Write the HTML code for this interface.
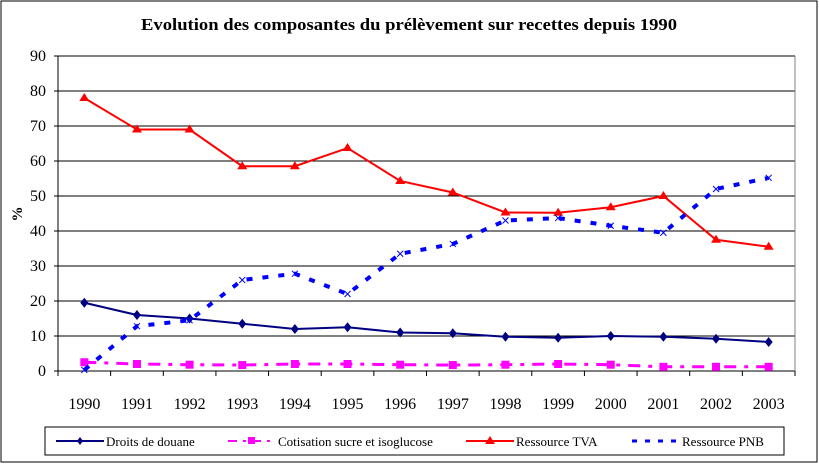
<!DOCTYPE html>
<html><head><meta charset="utf-8"><style>
body{margin:0;background:#fff;}
svg{display:block;font-family:"Liberation Serif",serif;}
</style></head><body>
<svg id="c" width="819" height="464">
<rect x="1" y="1" width="816" height="461" fill="#fff" stroke="#000" stroke-width="1"/>
<text x="409" y="30" text-anchor="middle" font-size="17" font-weight="bold" textLength="536" lengthAdjust="spacingAndGlyphs">Evolution des composantes du prélèvement sur recettes depuis 1990</text>
<text x="22" y="214" text-anchor="middle" font-size="15" font-weight="bold" transform="rotate(-90 22 214)">%</text>
<g id="grid"></g><g id="series"></g>
<rect x="45" y="427" width="739" height="28" fill="#fff" stroke="#000"/>
<g><line x1="56" y1="441" x2="104" y2="441" stroke="#000080" stroke-width="2"/><path d="M80 437 L83 441 L80 445 L77 441Z" fill="#000080"/><text x="106" y="446" font-size="13">Droits de douane</text></g>
<g><line x1="228" y1="441" x2="276" y2="441" stroke="#f0f" stroke-width="2" stroke-dasharray="9,6,3,6"/><rect x="248" y="437" width="7" height="7" fill="#f0f"/><text x="278" y="446" font-size="13">Cotisation sucre et isoglucose</text></g>
<g><line x1="466" y1="441" x2="514" y2="441" stroke="#f00" stroke-width="2"/><path d="M490 436 L495 444 L485 444Z" fill="#f00"/><text x="516" y="446" font-size="13">Ressource TVA</text></g>
<g><line x1="632" y1="441" x2="680" y2="441" stroke="#00f" stroke-width="3" stroke-dasharray="5,8"/><text x="682" y="446" font-size="13">Ressource PNB</text></g>
</svg>
<script>
const years=["1990","1991","1992","1993","1994","1995","1996","1997","1998","1999","2000","2001","2002","2003"];
const yTicks=[0,10,20,30,40,50,60,70,80,90];
const droits=[19.5,16,15,13.5,12,12.5,11,10.8,9.8,9.5,10,9.8,9.2,8.3];
const cotisation=[2.5,2,1.8,1.7,2,2,1.8,1.7,1.8,2,1.8,1.2,1.2,1.2];
const tva=[78,69,69,58.5,58.5,63.7,54.3,51,45.3,45.2,46.8,50,37.5,35.5];
const pnb=[0.3,12.8,14.5,26,27.8,22,33.5,36.3,43,43.7,41.5,39.5,52,55.2];
const NS="http://www.w3.org/2000/svg";
const L=58,R=795,T=56,B=371,step=(R-L)/years.length;
const X=i=>L+step*(i+0.5), Y=v=>B-(v/90)*(B-T);
function mk(t,a,p){const e=document.createElementNS(NS,t);for(const k in a)e.setAttribute(k,a[k]);p.appendChild(e);return e;}
const g=document.getElementById('grid');
yTicks.forEach(v=>{
 const l=mk('line',{x1:L,x2:R,y1:Y(v),y2:Y(v),stroke:'#000','stroke-width':1},g);
 
 
 const t=mk('text',{x:L-12,y:Y(v)+5,'text-anchor':'end','font-size':16},g);t.textContent=v;
 
 
 mk('line',{x1:L-4,x2:L,y1:Y(v),y2:Y(v),stroke:'#000'},g);
});
mk('line',{x1:L,x2:L,y1:T,y2:B,stroke:'#000'},g);
mk('line',{x1:R,x2:R,y1:T,y2:B,stroke:'#808080'},g);
for(let i=0;i<=years.length;i++)mk('line',{x1:L+step*i,x2:L+step*i,y1:B,y2:B+5,stroke:'#000'},g);
years.forEach((y,i)=>{const t=mk('text',{x:X(i),y:409,'text-anchor':'middle','font-size':16},g);t.textContent=y;
 
 });
const s=document.getElementById('series');
function line(data,color,w,dash,name){
 const p=mk('polyline',{points:data.map((v,i)=>X(i)+','+Y(v)).join(' '),fill:'none',stroke:color,'stroke-width':w},s);
 if(dash)p.setAttribute('stroke-dasharray',dash);
 
 
}
line(droits,'#000080',2,null,'droits-line');
droits.forEach((v,i)=>{const m=mk('path',{d:`M${X(i)} ${Y(v)-5} L${X(i)+4} ${Y(v)} L${X(i)} ${Y(v)+5} L${X(i)-4} ${Y(v)}Z`,fill:'#000080'},s);
 
 });
line(cotisation,'#f0f',3,'12,8,4,8','cotisation-line');
cotisation.forEach((v,i)=>{const m=mk('rect',{x:X(i)-4,y:Y(v)-4,width:8,height:8,fill:'#f0f'},s);
 
 });
line(tva,'#f00',2,null,'tva-line');
tva.forEach((v,i)=>{const m=mk('path',{d:`M${X(i)} ${Y(v)-5} L${X(i)+5} ${Y(v)+3} L${X(i)-5} ${Y(v)+3}Z`,fill:'#f00'},s);
 
 });
line(pnb,'#00f',4,'6,10','pnb-line');
pnb.forEach((v,i)=>{const m=mk('path',{d:`M${X(i)-3} ${Y(v)-3} L${X(i)+3} ${Y(v)+3} M${X(i)+3} ${Y(v)-3} L${X(i)-3} ${Y(v)+3}`,stroke:'#00f','stroke-width':1},s);
 
 });
</script>
</body></html>
